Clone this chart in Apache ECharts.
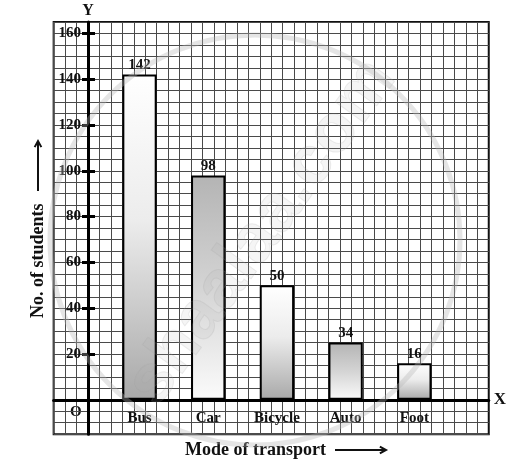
<!DOCTYPE html>
<html>
<head>
<meta charset="utf-8">
<script src="https://cdn.jsdelivr.net/npm/echarts@6/dist/echarts.min.js"></script>
<style>
  html, body { margin: 0; padding: 0; background: #fff; }
  #chart { width: 514px; height: 463px; }
</style>
</head>
<body>
<div id="chart"></div>
<script>
// data
var categories = ['Bus', 'Car', 'Bicycle', 'Auto', 'Foot'];
// heights of the bars as drawn (the Auto bar is drawn lower than its label)
var barHeights = [142, 98, 50, 25, 16];
// numbers printed above the bars
var barLabels = ['142', '98', '50', '34', '16'];
var yTicks = [20, 40, 60, 80, 100, 120, 140, 160];

var serif = '"Liberation Serif", "DejaVu Serif", serif';
// which bars are darker at the top (scan shading)
var shadeTopDark = [false, true, false, true, false];

var chart = echarts.init(document.getElementById('chart'));

// graph paper: one square = 5 students, 11.45px
var sq = 11.45;
var unit = sq / 5;
var zeroY = 399.8;
var axisX = 88;

var fills = shadeTopDark.map(function (dark) {
  return new echarts.graphic.LinearGradient(0, 0, 0, 1, dark
    ? [{offset: 0, color: '#b4b4b4'}, {offset: 0.5, color: '#d4d4d4'}, {offset: 1, color: '#fbfbfb'}]
    : [{offset: 0, color: '#ffffff'}, {offset: 0.45, color: '#ececec'}, {offset: 1, color: '#a8a8a8'}]);
});

function arrow(x1, y1, x2, y2) {
  // straight shaft with a small open head
  var a = Math.atan2(y2 - y1, x2 - x1), h = 7;
  return [
    {type: 'line', shape: {x1: x1, y1: y1, x2: x2, y2: y2}, style: {stroke: '#111', lineWidth: 2}},
    {
      type: 'polyline',
      shape: {points: [
        [x2 - h * Math.cos(a - 0.5), y2 - h * Math.sin(a - 0.5)],
        [x2, y2],
        [x2 - h * Math.cos(a + 0.5), y2 - h * Math.sin(a + 0.5)]
      ]},
      style: {stroke: '#111', lineWidth: 2, fill: null}
    }
  ];
}

chart.setOption({
  backgroundColor: '#fff',
  animation: false,
  grid: [
    {
      // paper
      left: axisX - 3 * sq,
      top: zeroY - 165 * unit,
      width: 38 * sq,
      height: 180 * unit,
      show: true,
      borderColor: '#111',
      borderWidth: 2,
      backgroundColor: 'transparent'
    },
    {
      // bars
      left: axisX + 1.5 * sq,
      top: zeroY - 160 * unit,
      width: 30 * sq,
      height: 160 * unit
    }
  ],
  xAxis: [
    {
      gridIndex: 0,
      type: 'value',
      min: -3,
      max: 35,
      interval: 1,
      name: 'X',
      nameLocation: 'end',
      nameGap: 5,
      nameTextStyle: {fontFamily: serif, fontWeight: 'bold', fontSize: 17, color: '#111'},
      axisLine: {show: true, onZero: true, lineStyle: {color: '#000', width: 3}},
      axisTick: {show: false},
      axisLabel: {show: false},
      splitLine: {show: true, lineStyle: {color: '#4a4a4a', width: 1}}
    },
    {
      gridIndex: 1,
      type: 'category',
      data: categories,
      axisLine: {show: false},
      axisTick: {show: false},
      axisLabel: {
        margin: 11,
        fontFamily: serif,
        fontWeight: 'bold',
        fontSize: 15,
        color: '#111'
      }
    }
  ],
  yAxis: [
    {
      gridIndex: 0,
      type: 'value',
      min: -15,
      max: 165,
      interval: 5,
      name: 'Y',
      nameLocation: 'end',
      nameGap: 3,
      nameTextStyle: {fontFamily: serif, fontWeight: 'bold', fontSize: 16, color: '#111'},
      axisLine: {show: true, onZero: true, lineStyle: {color: '#000', width: 3}},
      axisTick: {show: false},
      axisLabel: {show: false},
      splitLine: {show: true, lineStyle: {color: '#4a4a4a', width: 1}}
    },
    {
      gridIndex: 1,
      type: 'value',
      min: 0,
      max: 160,
      interval: 20,
      offset: 1.5 * sq,
      axisLine: {show: false},
      axisTick: {show: true, length: 6, lineStyle: {color: '#000', width: 3}},
      axisLabel: {
        margin: 7,
        showMinLabel: false,
        fontFamily: serif,
        fontWeight: 'bold',
        fontSize: 15,
        color: '#111',
        formatter: function (v) { return yTicks.indexOf(v) > -1 ? String(v) : ''; }
      },
      splitLine: {show: false}
    },
    {
      // inner half of the cross ticks
      gridIndex: 1,
      type: 'value',
      min: 0,
      max: 160,
      interval: 20,
      position: 'left',
      offset: 1.5 * sq,
      axisLine: {show: false},
      axisTick: {show: true, inside: true, length: 7, lineStyle: {color: '#000', width: 3}},
      axisLabel: {show: false},
      splitLine: {show: false}
    }
  ],
  series: [
    {
      type: 'bar',
      xAxisIndex: 1,
      yAxisIndex: 1,
      barWidth: 3 * sq,
      data: barHeights.map(function (v, i) {
        return {value: v, itemStyle: {color: fills[i]}};
      }),
      itemStyle: {borderColor: '#000', borderWidth: 2},
      label: {
        show: true,
        position: 'top',
        distance: 2,
        fontFamily: serif,
        fontWeight: 'bold',
        fontSize: 15,
        color: '#111',
        formatter: function (p) { return barLabels[p.dataIndex]; }
      }
    }
  ],
  graphic: [
    {
      type: 'circle',
      shape: {cx: 255, cy: 240, r: 205},
      style: {fill: 'none', stroke: 'rgba(180,180,180,0.35)', lineWidth: 5},
      z: 100,
      silent: true
    },
    {
      type: 'text',
      x: 262,
      y: 232,
      rotation: Math.PI * 0.3,
      style: {
        text: 'shaalaa.com',
        font: 'bold 68px "Liberation Sans", sans-serif',
        fill: 'rgba(170,170,170,0.12)',
        stroke: 'rgba(160,160,160,0.18)',
        lineWidth: 1,
        align: 'center',
        verticalAlign: 'middle'
      },
      z: 100,
      silent: true
    },
    {
      type: 'text',
      left: 70,
      top: 405,
      style: {text: 'O', font: 'bold 15px ' + serif, fill: '#111'}
    },
    {
      type: 'text',
      x: 38,
      y: 318,
      rotation: Math.PI / 2,
      style: {
        text: 'No. of students',
        font: 'bold 18px ' + serif,
        fill: '#111',
        align: 'left',
        verticalAlign: 'middle'
      }
    },
    {type: 'group', children: arrow(38, 191, 38, 141)},
    {
      type: 'text',
      x: 185,
      y: 450,
      style: {
        text: 'Mode of transport',
        font: 'bold 18px ' + serif,
        fill: '#111',
        align: 'left',
        verticalAlign: 'middle'
      }
    },
    {type: 'group', children: arrow(335, 450, 386, 450)}
  ]
});
</script>
</body>
</html>
